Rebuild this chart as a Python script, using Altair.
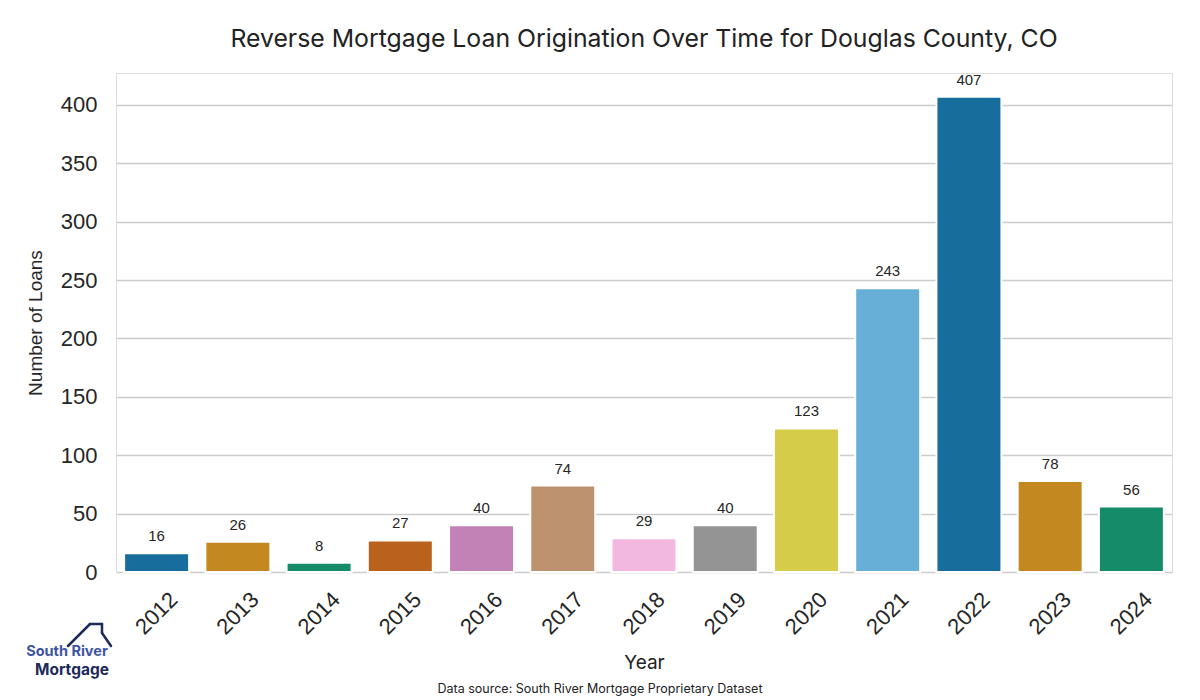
import colorsys
import altair as alt
import pandas as pd

years = ["2012", "2013", "2014", "2015", "2016", "2017", "2018",
         "2019", "2020", "2021", "2022", "2023", "2024"]
loans = [16, 26, 8, 27, 40, 74, 29, 40, 123, 243, 407, 78, 56]

base_palette = ["#0173b2", "#de8f05", "#029e73", "#d55e00", "#cc78bc",
                "#ca9161", "#fbafe4", "#949494", "#ece133", "#56b4e9"]


def desaturate(hx, prop=0.75):
    r, g, b = (int(hx[i:i + 2], 16) / 255 for i in (1, 3, 5))
    h, l, s = colorsys.rgb_to_hls(r, g, b)
    r, g, b = colorsys.hls_to_rgb(h, l, s * prop)
    return "#%02x%02x%02x" % tuple(round(v * 255) for v in (r, g, b))


colors = [desaturate(base_palette[i % len(base_palette)]) for i in range(len(years))]

df = pd.DataFrame({"Year": years, "Loans": loans})
one = pd.DataFrame({"k": [0]})

W, H = 1056, 499
ymax = max(loans) * 1.05

x_enc = alt.X(
    "Year:N", sort=years,
    scale=alt.Scale(paddingInner=0.2, paddingOuter=0.1),
    axis=alt.Axis(
        title="Year", labelAngle=-45, labelAlign="center", labelBaseline="middle",
        labelPadding=41, ticks=False, domain=False, grid=False,
        labelFontSize=22, labelFont="Liberation Sans", labelColor="#262626",
        labelOverlap=False,
        titleFont="Inter", titleFontSize=19, titleFontWeight="normal",
        titleColor="#222222", titleX=W / 2, titleY=90, titleBaseline="middle",
        titleAlign="center",
    ),
)

y_enc = alt.Y(
    "Loans:Q",
    scale=alt.Scale(domain=[0, ymax], nice=False, zero=True),
    axis=alt.Axis(
        title="Number of Loans", values=list(range(0, 401, 50)),
        ticks=False, domain=False, grid=True, gridColor="#cccccc", gridWidth=1.6,
        labelFontSize=22, labelFont="Liberation Sans", labelColor="#262626",
        labelPadding=19,
        titleFont="Liberation Sans", titleFontSize=19, titleFontWeight="normal",
        titleColor="#262626", titleX=-81, titleY=H / 2, titleAngle=-90,
        titleAlign="center", titleBaseline="middle",
    ),
)

bars = alt.Chart(df).mark_bar(stroke="white", strokeWidth=2).encode(
    x=x_enc,
    y=y_enc,
    color=alt.Color("Year:N", sort=years,
                    scale=alt.Scale(domain=years, range=colors), legend=None),
)

labels = alt.Chart(df).mark_text(
    baseline="alphabetic", dy=-12, fontSize=15, font="Liberation Sans",
    color="#262626",
).encode(x=alt.X("Year:N", sort=years), y="Loans:Q", text="Loans:Q")

title = alt.Chart(one).mark_text(
    text="Reverse Mortgage Loan Origination Over Time for Douglas County, CO",
    font="Inter", fontSize=24.8, color="#222222", align="center",
    baseline="middle",
).encode(x=alt.value(W / 2), y=alt.value(-33))

source = alt.Chart(one).mark_text(
    text="Data source: South River Mortgage Proprietary Dataset",
    font="Inter", fontSize=12.5, color="#222222", align="center",
    baseline="middle",
).encode(x=alt.value(484), y=alt.value(616))

logo_top = alt.Chart(one).mark_text(
    text="South River", font="Inter", fontSize=14.5, fontWeight="bold",
    color="#3d54a4", align="center", baseline="middle",
).encode(x=alt.value(-49), y=alt.value(579))

logo_bottom = alt.Chart(one).mark_text(
    text="Mortgage", font="Inter", fontSize=15.5, fontWeight="bold",
    color="#1d2a5b", align="center", baseline="middle",
).encode(x=alt.value(-44), y=alt.value(597))

roof_segments = [(-48, 573, -26, 551), (-26, 551, -14, 551),
                 (-14, 551, -14, 560), (-14, 560, -5, 573)]
roofs = [
    alt.Chart(one).mark_rule(color="#1d2a5b", strokeWidth=2.5, strokeCap="round").encode(
        x=alt.value(a), y=alt.value(b), x2=alt.value(c), y2=alt.value(d))
    for a, b, c, d in roof_segments
]

chart = alt.layer(bars, labels, title, source, logo_top, logo_bottom, *roofs).properties(
    width=W, height=H,
    autosize=alt.AutoSizeParams(type="none"),
    padding={"left": 108, "top": 65, "right": 20, "bottom": 128},
).configure_view(fill="#f8f8f8", stroke=None).configure(background="white")

chart.save("out.html", embed_options={"renderer": "svg", "actions": False})
